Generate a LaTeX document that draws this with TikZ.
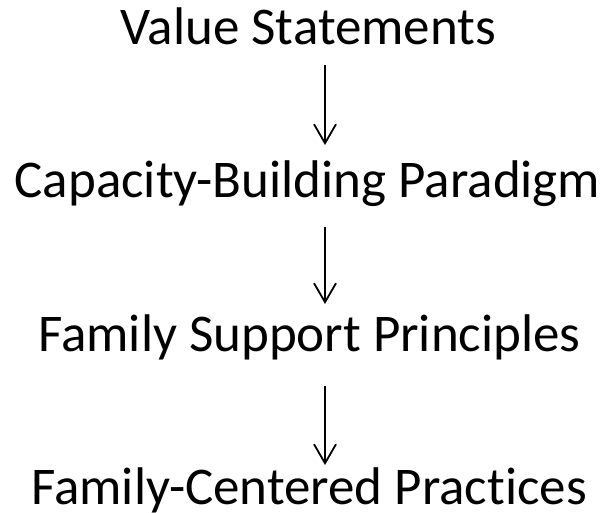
\documentclass[tikz,border=0pt]{standalone}
\usepackage{fontspec}
\setmainfont{Carlito}[Ligatures=NoCommon]
\usetikzlibrary{arrows.meta,calc}
\begin{document}
\begin{tikzpicture}[x=1pt,y=1pt,
  lbl/.style={inner sep=0pt,anchor=base,font=\fontsize{53}{60}\selectfont},
  arr/.style={line width=1.8pt,-{Straight Barb[length=19pt,width=22pt,line width=1.8pt]}}]
\useasboundingbox (0,0) rectangle (607,513);
\node[lbl] (v) at (308.5,468) {Value Statements};
\node[lbl] (c) at (307.5,315) {Capacity-Building Paradigm};
\node[lbl] (f) at (309.5,161) {Family Support Principles};
\node[lbl] (p) at (309,8) {Family-Centered Pract\kern0pt ices};
\draw[arr] ($(v.base)+(16.5,-20)$) -- ($(c.base)+(17.5,53)$);
\draw[arr] ($(c.base)+(17.5,-29)$) -- ($(f.base)+(15.5,48)$);
\draw[arr] ($(f.base)+(15.5,-34)$) -- ($(p.base)+(16,40)$);
\end{tikzpicture}
\end{document}
